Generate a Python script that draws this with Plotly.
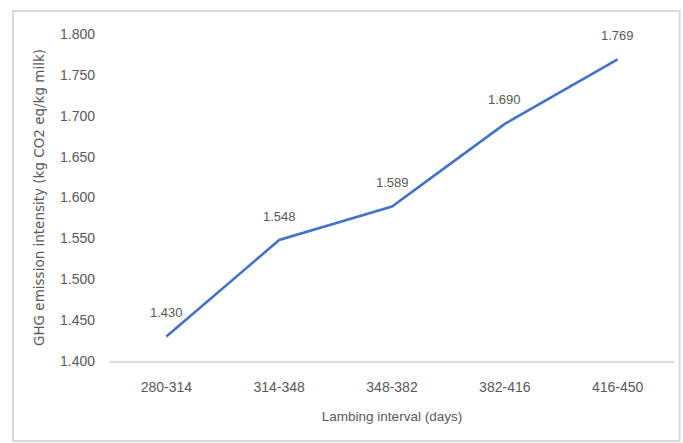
import plotly.graph_objects as go

# Lambing interval classes and GHG emission intensity per class
intervals = ["280-314", "314-348", "348-382", "382-416", "416-450"]
intensity = [1.430, 1.548, 1.589, 1.690, 1.769]
y_ticks = [1.400, 1.450, 1.500, 1.550, 1.600, 1.650, 1.700, 1.750, 1.800]

TEXT = "#595959"
FONT = "Liberation Sans"

fig = go.Figure()
fig.add_trace(go.Scatter(
    x=intervals, y=intensity, mode="lines",
    line=dict(color="#4472C4", width=2.6),
    hoverinfo="skip", showlegend=False,
))

# value labels above each point
for cat, val in zip(intervals, intensity):
    fig.add_annotation(x=cat, y=val, text=f"{val:.3f}", showarrow=False,
                       yshift=24, font=dict(family=FONT, size=13, color=TEXT))

# light outer frame around the chart
fig.add_shape(type="rect", xref="paper", yref="paper",
              x0=-0.172, x1=1.010, y0=-0.245, y1=1.070,
              line=dict(color="#d9d9d9", width=2), layer="below")

fig.update_layout(
    width=683, height=443,
    margin=dict(l=110, r=9, t=34, b=82),
    paper_bgcolor="white", plot_bgcolor="white",
    font=dict(family=FONT, color=TEXT),
    xaxis=dict(
        type="category", range=[-0.5, 4.5],
        showgrid=False, showline=True, linecolor="#d9d9d9", linewidth=1.5,
        ticks="", ticklabelstandoff=12,
        tickfont=dict(family=FONT, size=14, color=TEXT),
        title=dict(text="Lambing interval (days)", standoff=18,
                   font=dict(family=FONT, size=13.5, color=TEXT)),
        zeroline=False,
    ),
    yaxis=dict(
        range=[1.400, 1.800], tickvals=y_ticks,
        ticktext=[f"{v:.3f}" for v in y_ticks],
        showgrid=False, showline=False, zeroline=False,
        ticks="", ticklabelstandoff=14,
        tickfont=dict(family=FONT, size=14, color=TEXT),
        title=dict(text="GHG emission intensity (kg CO2 eq/kg milk)", standoff=12,
                   font=dict(family="DejaVu Sans", size=13.5, color=TEXT)),
    ),
)

fig.write_html("out.html")
